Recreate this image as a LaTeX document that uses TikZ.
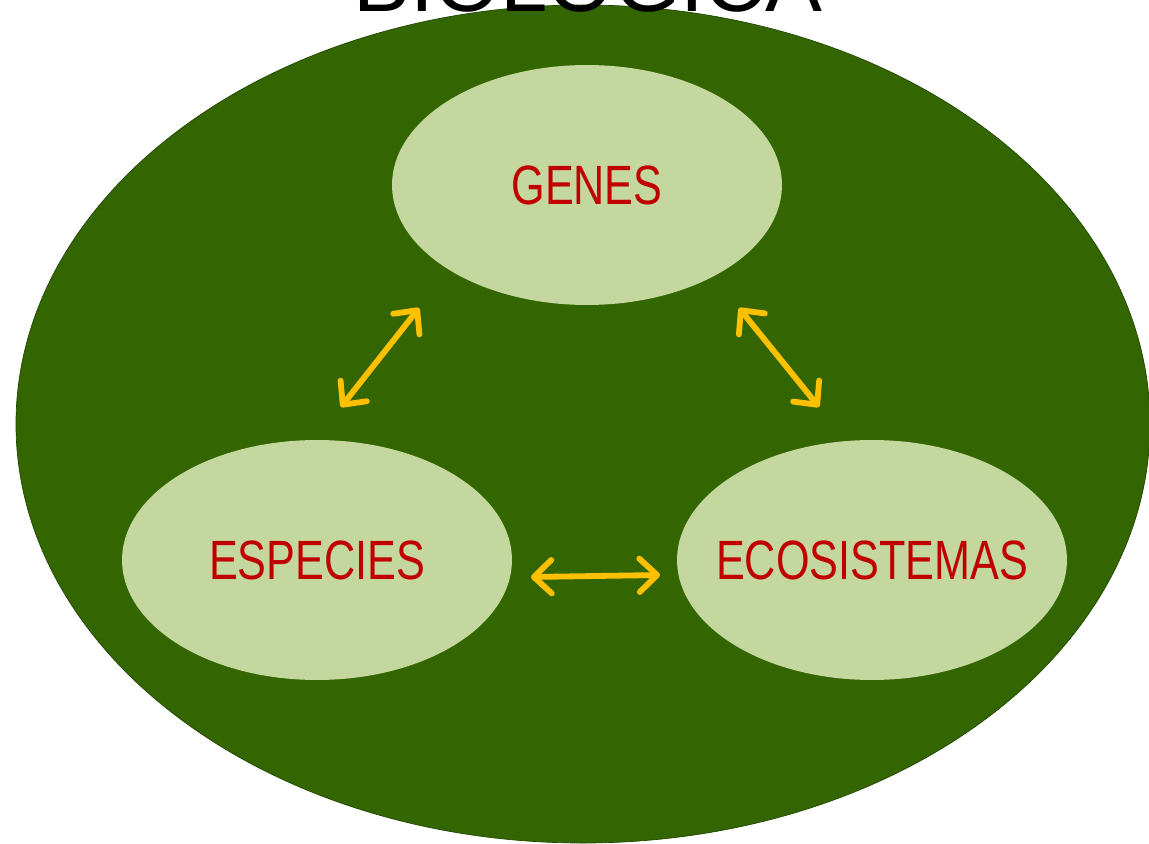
\documentclass[tikz,border=0pt]{standalone}
\usepackage{fontspec}
\setmainfont{Liberation Sans}
\usetikzlibrary{arrows.meta,shapes.geometric}
\definecolor{darkgreen}{HTML}{336600}
\definecolor{lightgreen}{HTML}{C4D79E}
\definecolor{labelred}{HTML}{C00000}
\definecolor{arroworange}{HTML}{FFC000}
\begin{document}
\begin{tikzpicture}[x=0.02cm,y=-0.02cm,
  bubble/.style={ellipse, fill=lightgreen, minimum width=7.8cm, minimum height=4.8cm, inner sep=0pt},
  lab/.style={text=labelred, font=\fontsize{31.5}{36}\selectfont, xscale=0.78},
  link/.style={draw=arroworange, line width=3.3pt, line cap=round, {Straight Barb[length=10pt,width=19pt,round]}-{Straight Barb[length=10pt,width=19pt,round]}}]
\useasboundingbox (0,0) rectangle (1149,844);
\begin{scope}
\clip (0,0) rectangle (1149,844);
\fill[darkgreen, draw=darkgreen!70!black, line width=0.4pt] (583,424) ellipse [x radius=567, y radius=419];
\node[anchor=base, font=\fontsize{48.5}{55}\selectfont, text=black] (title) at (588,12) {BIOLÓGICA};
\end{scope}
\node[bubble] (genes) at (587,185) {};
\node[bubble] (especies) at (317,560) {};
\node[bubble] (eco) at (872,560) {};
\node[lab] at (genes) {GENES};
\node[lab] at (especies) {ESPECIES};
\node[lab] at (eco) {ECOSISTEMAS};
\coordinate (a1) at (419,308);
\coordinate (a2) at (341,407);
\coordinate (b1) at (739,308);
\coordinate (b2) at (819,407);
\coordinate (c1) at (531,577);
\coordinate (c2) at (660,575);
\draw[link] (a1) -- (a2);
\draw[link] (b1) -- (b2);
\draw[link] (c1) -- (c2);
\end{tikzpicture}
\end{document}
